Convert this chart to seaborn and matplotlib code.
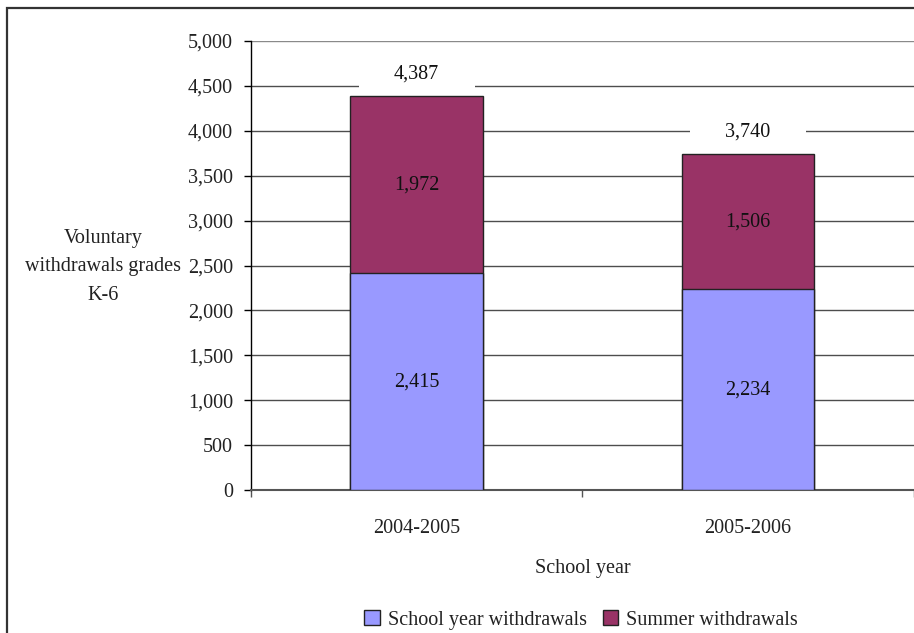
import matplotlib
matplotlib.use("Agg")
import matplotlib.pyplot as plt
from matplotlib.patches import Patch, Rectangle
from matplotlib.ticker import FuncFormatter, FixedLocator
import seaborn as sns
import pandas as pd

# ---- data ----
years = ["2004-2005", "2005-2006"]
school_year = [2415, 2234]
summer = [1972, 1506]
totals = [4387, 3740]
y_ticks = [0, 500, 1000, 1500, 2000, 2500, 3000, 3500, 4000, 4500, 5000]

school_color = "#9999FF"
summer_color = "#993366"

sns.set_theme(style="white")
plt.rcParams["font.family"] = ["Liberation Serif", "DejaVu Serif"]
FS = 14.5

fig = plt.figure(figsize=(9.14, 6.33), dpi=100)
ax = fig.add_axes([251 / 914, 1 - 490 / 633, (913.5 - 251) / 914, (490 - 41) / 633])

df = pd.DataFrame({"year": years, "school": school_year, "summer": summer, "total": totals})

# stacked bars: total (summer on top) then school-year overlay
sns.barplot(data=df, x="year", y="total", color=summer_color, width=0.4,
            edgecolor="#222222", linewidth=1.0, saturation=1, ax=ax, zorder=3)
sns.barplot(data=df, x="year", y="school", color=school_color, width=0.4,
            edgecolor="#222222", linewidth=1.0, saturation=1, ax=ax, zorder=4)

ax.set_xlim(-0.5, 1.5)
ax.set_ylim(0, 5000)
ax.yaxis.set_major_locator(FixedLocator(y_ticks))
ax.yaxis.set_major_formatter(FuncFormatter(lambda v, p: f"{int(v):,}"))

ax.grid(axis="y", color="#4d4d4d", linewidth=1.0, zorder=0)
ax.set_axisbelow(True)
for s in ["top", "right"]:
    ax.spines[s].set_visible(False)
ax.spines["left"].set_color("#000000")
ax.spines["left"].set_linewidth(1.0)
ax.spines["bottom"].set_color("#555555")
ax.spines["bottom"].set_linewidth(1.5)

ax.tick_params(axis="y", which="major", direction="out", length=5, width=1,
               color="#000000", left=True, labelsize=FS, pad=8, labelcolor="#222222")
ax.tick_params(axis="x", which="major", length=0, labelsize=FS, pad=21, labelcolor="#222222")
ax.xaxis.set_minor_locator(FixedLocator([-0.5, 0.5, 1.5]))
ax.tick_params(axis="x", which="minor", direction="out", length=5, width=1,
               color="#555555", bottom=True)

fig.canvas.draw()
glines = ax.get_ygridlines()
if glines:
    glines[-1].set_color("#8a8a8a")

# segment labels
for i in range(len(years)):
    ax.text(i, school_year[i] / 2, f"{school_year[i]:,}", ha="center", va="center",
            fontsize=FS, color="#111111", zorder=6)
    ax.text(i, school_year[i] + summer[i] / 2, f"{summer[i]:,}", ha="center", va="center",
            fontsize=FS, color="#111111", zorder=6)
    ly = totals[i] + 250
    ax.add_patch(Rectangle((i - 0.175, ly - 200), 0.35, 400, facecolor="white",
                           edgecolor="none", zorder=5))
    ax.text(i, ly, f"{totals[i]:,}", ha="center", va="center",
            fontsize=FS, color="#111111", zorder=6)

ax.set_xlabel("")
ax.set_ylabel("")
fig.text(103 / 914, 1 - 267 / 633, "Voluntary\nwithdrawals grades\nK-6", ha="center",
         va="center", fontsize=FS, color="#222222", linespacing=1.68)
fig.text(583 / 914, 1 - 569 / 633, "School year", ha="center", va="center",
         fontsize=FS, color="#222222")

handles = [Patch(facecolor=school_color, edgecolor="#222222", label="School year withdrawals"),
           Patch(facecolor=summer_color, edgecolor="#222222", label="Summer withdrawals")]
fig.legend(handles=handles, loc="center", bbox_to_anchor=(581 / 914, 1 - 620 / 633),
           ncol=2, frameon=False, fontsize=FS, handlelength=0.75, handleheight=0.75,
           handletextpad=0.4, columnspacing=0.8, labelcolor="#222222")

# figure border (partially visible)
fig.patches.append(Rectangle((6.5 / 914, -0.1), 1.2, 1.1 - 8.5 / 633,
                             transform=fig.transFigure, facecolor="none",
                             edgecolor="#333333", linewidth=1.6, zorder=0))

fig.savefig("out.png", dpi=100)
